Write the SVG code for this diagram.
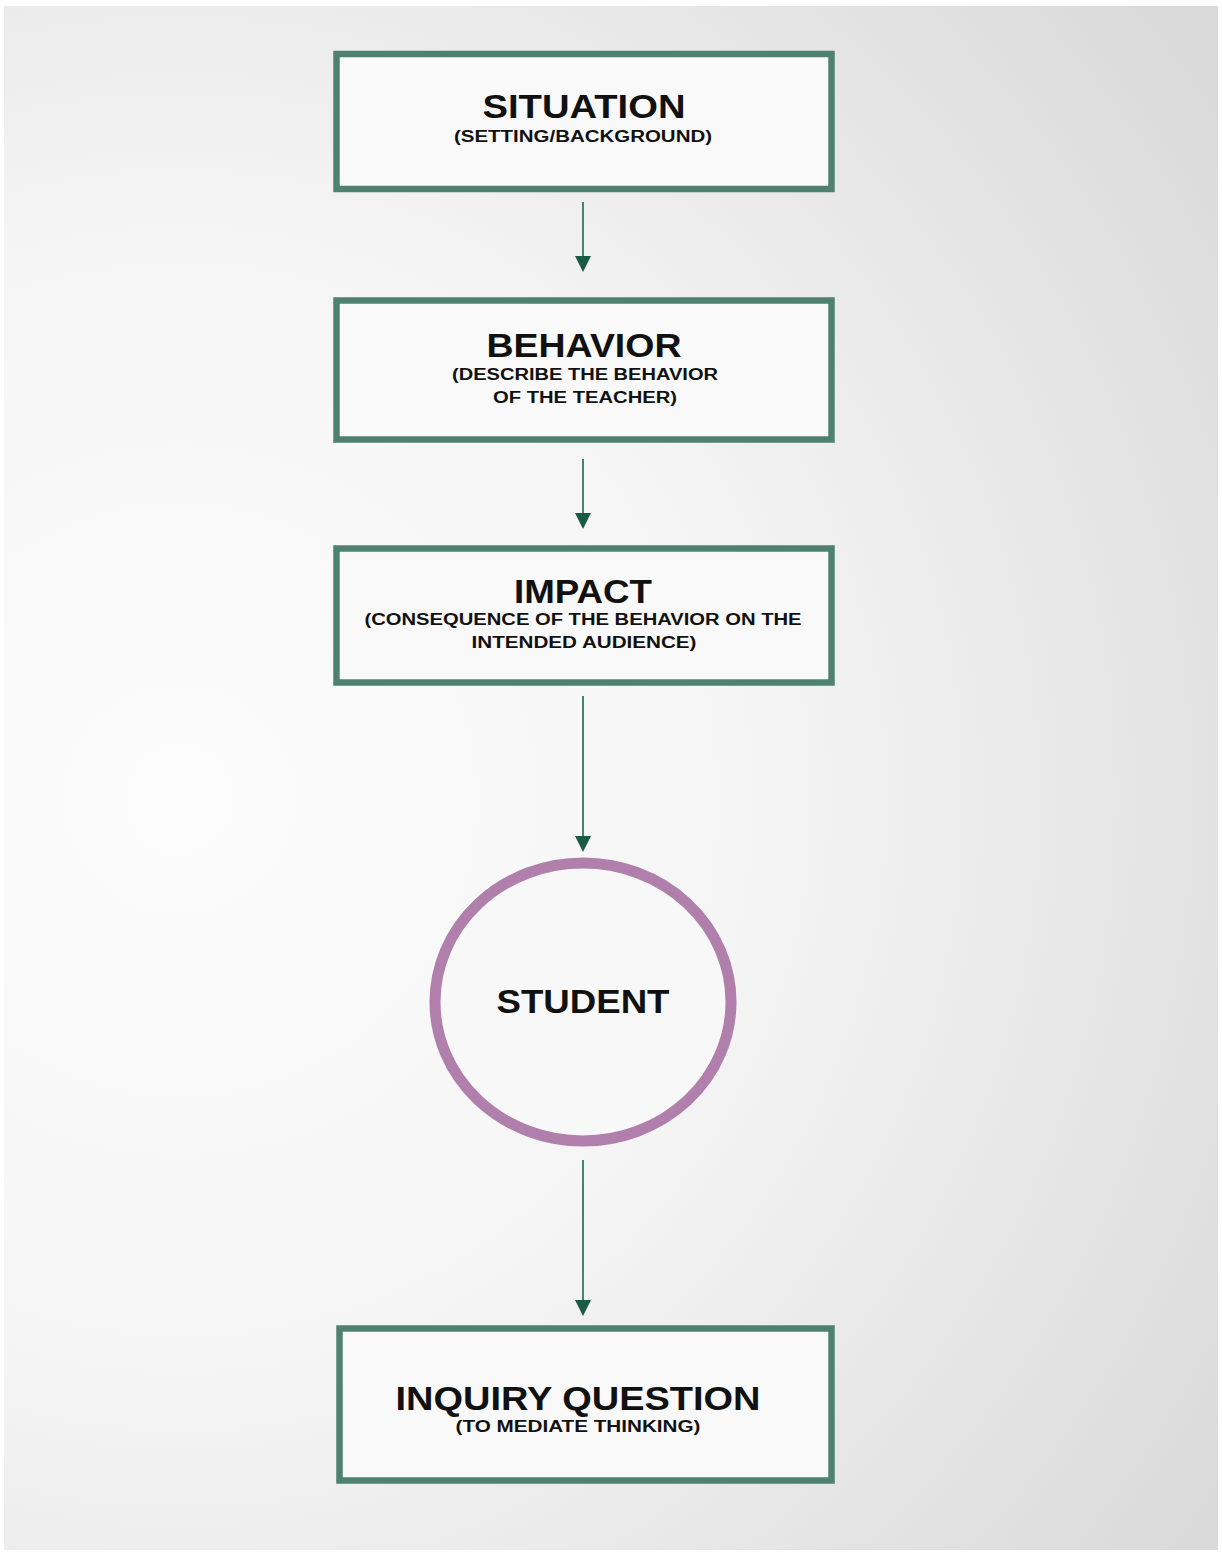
<svg xmlns="http://www.w3.org/2000/svg" width="1222" height="1552" viewBox="0 0 1222 1552">
<defs>
<radialGradient id="bg" cx="180" cy="800" r="1250" gradientUnits="userSpaceOnUse">
<stop offset="0" stop-color="#fcfcfc"/>
<stop offset="0.45" stop-color="#f5f5f5"/>
<stop offset="1" stop-color="#dadada"/>
</radialGradient>
<style>
.box{fill:#f9f9f9;stroke:#4f8170;stroke-width:6.5}
.circ{fill:#f8f8f8;stroke:#b07fab;stroke-width:11}
.conn{stroke:#4a8270;stroke-width:2;fill:none}
.head{fill:#1b5a44}
.t{font-family:"Liberation Sans",Arial,sans-serif;font-weight:bold;fill:#111;text-anchor:middle}
.h{font-size:34px}
.s{font-size:16px}
</style>
</defs>
<rect x="0" y="0" width="1222" height="1552" fill="#ffffff"/>
<rect x="4" y="6" width="1214" height="1544" fill="url(#bg)"/>
<g id="connectors">
<line class="conn" x1="583" y1="202" x2="583" y2="258"/>
<path class="head" d="M575,256 L591,256 L583,272 Z"/>
<line class="conn" x1="583" y1="459" x2="583" y2="515"/>
<path class="head" d="M575,513 L591,513 L583,529 Z"/>
<line class="conn" x1="583" y1="696" x2="583" y2="838"/>
<path class="head" d="M575,836 L591,836 L583,852 Z"/>
<line class="conn" x1="583" y1="1160" x2="583" y2="1302"/>
<path class="head" d="M575,1300 L591,1300 L583,1316 Z"/>
</g>
<g id="situation">
<rect class="box" x="336.5" y="54" width="495" height="135"/>
<text class="t h" x="584" y="118" textLength="203" lengthAdjust="spacingAndGlyphs">SITUATION</text>
<text class="t s" x="583" y="142" textLength="258" lengthAdjust="spacingAndGlyphs">(SETTING/BACKGROUND)</text>
</g>
<g id="behavior">
<rect class="box" x="336.5" y="300.5" width="495" height="139"/>
<text class="t h" x="584" y="357" textLength="195" lengthAdjust="spacingAndGlyphs">BEHAVIOR</text>
<text class="t s" x="585" y="380" textLength="266" lengthAdjust="spacingAndGlyphs">(DESCRIBE THE BEHAVIOR</text>
<text class="t s" x="585" y="403" textLength="184" lengthAdjust="spacingAndGlyphs">OF THE TEACHER)</text>
</g>
<g id="impact">
<rect class="box" x="336.5" y="548.5" width="495" height="134"/>
<text class="t h" x="583" y="603" textLength="138" lengthAdjust="spacingAndGlyphs">IMPACT</text>
<text class="t s" x="583" y="625" textLength="437" lengthAdjust="spacingAndGlyphs">(CONSEQUENCE OF THE BEHAVIOR ON THE</text>
<text class="t s" x="584" y="648" textLength="225" lengthAdjust="spacingAndGlyphs">INTENDED AUDIENCE)</text>
</g>
<g id="student">
<ellipse class="circ" cx="583" cy="1002" rx="148" ry="139"/>
<text class="t h" x="583" y="1013" textLength="173" lengthAdjust="spacingAndGlyphs">STUDENT</text>
</g>
<g id="inquiry">
<rect class="box" x="339.5" y="1328.5" width="492" height="152"/>
<text class="t h" x="578" y="1410" textLength="365" lengthAdjust="spacingAndGlyphs">INQUIRY QUESTION</text>
<text class="t s" x="578" y="1432" textLength="245" lengthAdjust="spacingAndGlyphs">(TO MEDIATE THINKING)</text>
</g>
</svg>
